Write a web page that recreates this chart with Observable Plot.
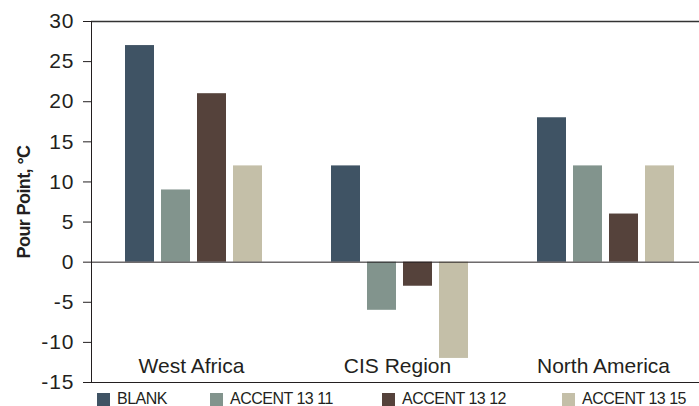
<!DOCTYPE html>
<html>
<head>
<meta charset="utf-8">
<script src="https://cdn.jsdelivr.net/npm/d3@7"></script>
<script src="https://cdn.jsdelivr.net/npm/@observablehq/plot@0.6"></script>
<style>
  html, body { margin: 0; padding: 0; background: #fff; }
  #wrap { width: 699px; height: 406px; position: relative; }
  #chart svg { display: block; }
  #legend { position: absolute; left: 0; top: 388px; width: 699px; height: 18px; font-family: "Liberation Sans", Arial, sans-serif; font-size: 16px; line-height: 14px; color: #231f20; }
  .item { position: absolute; top: 4px; display: flex; align-items: center; white-space: nowrap; letter-spacing: -0.5px; }
  .sw { width: 13px; height: 13px; margin-right: 7px; }
  g[aria-label="y-axis tick label"] text { letter-spacing: 1px; }
  g[aria-label="y-axis label"] text { letter-spacing: -0.6px; }
</style>
</head>
<body>
<div id="wrap"><div id="chart"></div><div id="legend"></div></div>
<script>
const regions = ["West Africa", "CIS Region", "North America"];
const series = ["BLANK", "ACCENT 1311", "ACCENT 1312", "ACCENT 1315"];
const blank = [27, 12, 18];
const accent1311 = [9, -6, 12];
const accent1312 = [21, -3, 6];
const accent1315 = [12, -12, 12];
const yTicks = [30, 25, 20, 15, 10, 5, 0, -5, -10, -15];
const seriesColors = ["#3f5364", "#82948d", "#55423b", "#c4bfa8"];
const legendLabels = ["BLANK", "ACCENT 13 11", "ACCENT 13 12", "ACCENT 13 15"];

const valuesBySeries = [blank, accent1311, accent1312, accent1315];
const data = [];
regions.forEach((r, i) => series.forEach((s, j) => data.push({region: r, series: s, value: valuesBySeries[j][i]})));

const font = '"Liberation Sans", Arial, sans-serif';

const chart = Plot.plot({
  width: 699,
  height: 406,
  marginLeft: 90,
  marginRight: -11,
  marginTop: 21,
  marginBottom: 24,
  style: {fontFamily: font, color: "#231f20", background: "white"},
  fx: {domain: regions, padding: 0, axis: null, label: null},
  x: {domain: series, paddingInner: 0.19, paddingOuter: 0.8875, axis: null, label: null},
  y: {domain: [-15, 30], label: null},
  color: {domain: series, range: seriesColors},
  marks: [
    Plot.barY(data, {fx: "region", x: "series", y: "value", fill: "series"}),
    Plot.ruleY([0], {stroke: "#231f20", strokeWidth: 1}),
    Plot.ruleY([30], {stroke: "#333", strokeWidth: 1.6}),
    Plot.ruleY([-15], {stroke: "#231f20", strokeWidth: 1.2}),
    Plot.text(regions, {fx: d => d, text: d => d, y: -15, dy: -10, dx: -3, lineAnchor: "bottom", fontSize: 21, fill: "#231f20"}),
    Plot.axisY({ticks: yTicks, tickSize: 8, tickPadding: 9, fontSize: 21, tickFormat: d => String(d), label: null, stroke: "#231f20"}),
    Plot.axisY({ticks: [], label: "Pour Point, °C", labelArrow: "none", labelAnchor: "center", labelOffset: 74, fontSize: 18, fontWeight: "bold"}),
    Plot.frame({anchor: "left", facetAnchor: "left", stroke: "#231f20"})
  ]
});
document.getElementById("chart").appendChild(chart);

const legendLeft = [97, 210, 382, 562];
const legend = document.getElementById("legend");
series.forEach((s, i) => {
  const item = document.createElement("div");
  item.className = "item";
  item.style.left = legendLeft[i] + "px";
  const sw = document.createElement("span");
  sw.className = "sw";
  sw.style.background = seriesColors[i];
  const t = document.createElement("span");
  t.textContent = legendLabels[i];
  item.appendChild(sw);
  item.appendChild(t);
  legend.appendChild(item);
});
</script>
</body>
</html>
